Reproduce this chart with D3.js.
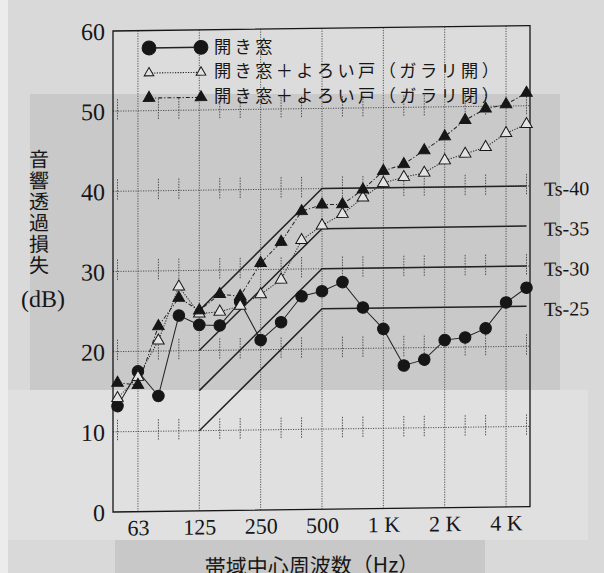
<!DOCTYPE html>
<html>
<head>
<meta charset="utf-8">
<script src="https://cdn.jsdelivr.net/npm/d3@7"></script>
<style>
  body { margin: 0; background: #d8d8d8; }
  svg { display: block; }
</style>
</head>
<body>
<svg id="chart"></svg>
<script>
// size of the page
const width = 604;
const height = 573;

// 1/3 octave band centre frequencies (Hz)
const bands = ["50", "63", "80", "100", "125", "160", "200", "250", "315", "400", "500",
	"630", "800", "1000", "1250", "1600", "2000", "2500", "3150", "4000", "5000"];

// labelled bands on the x axis
const majorBands = ["63", "125", "250", "500", "1000", "2000", "4000"];
const majorLabels = ["63", "125", "250", "500", "1 K", "2 K", "4 K"];

// y axis ticks (dB)
const yTicks = [0, 10, 20, 30, 40, 50, 60];
const gridValues = [10, 20, 30, 40, 50];

// sound transmission loss (dB)
const openWindow = [13.2, 17.5, 14.4, 24.4, 23.2, 23.1, 26.0, 21.2, 23.4, 26.6, 27.2,
	28.3, 25.1, 22.4, 17.8, 18.5, 20.9, 21.2, 22.3, 25.5, 27.3];
const shutterOpen = [14.2, 16.8, 21.3, 28.0, 24.6, 24.8, 25.5, 26.9, 28.7, 33.6, 35.4,
	36.8, 38.8, 40.6, 41.3, 41.8, 43.3, 44.1, 44.9, 46.6, 47.7];
const shutterClosed = [16.1, 15.8, 23.1, 26.6, 25.0, 27.0, 26.7, 30.8, 33.4, 37.2, 38.0,
	38.0, 39.8, 42.1, 42.9, 44.6, 46.3, 48.3, 49.7, 50.2, 51.6];

const legendLabels = ["開き窓", "開き窓＋よろい戸（ガラリ開）", "開き窓＋よろい戸（ガラリ閉）"];

// Ts rating curves: value at 125 Hz is Ts-15, flat from 500 Hz
const tsRatings = [40, 35, 30, 25];
const tsBands = ["125", "500", "5000"];
const tsOffsets = [-15, 0, 0];

const ink = "#161616";
const serif = "'Liberation Serif', 'DejaVu Serif', serif";
const jp = "'Noto Sans CJK JP', 'Noto Sans CJK SC', sans-serif";

// the scan is slightly tilted, right side higher
const tilt = 0.0131;

const svg = d3.select("#chart")
	.attr("width", width)
	.attr("height", height)
	.style("background", "#d8d8d8");

// scanned paper tones
const bg = svg.append("g");
bg.append("rect").attr("x", 0).attr("y", 0).attr("width", width).attr("height", height).attr("fill", "#d9d9d9");
bg.append("rect").attr("x", 0).attr("y", 0).attr("width", 8).attr("height", height).attr("fill", "#ececec");
bg.append("rect").attr("x", 113).attr("y", 30).attr("width", 417).attr("height", 66).attr("fill", "#dcdcdc");
bg.append("rect").attr("x", 30).attr("y", 94).attr("width", 530).attr("height", 296).attr("fill", "#c9c9c9");
bg.append("rect").attr("x", 8).attr("y", 390).attr("width", 580).attr("height", 150).attr("fill", "#e0e0e0");
bg.append("rect").attr("x", 115).attr("y", 540).attr("width", 370).attr("height", 33).attr("fill", "#c8c8c8");

const g = svg.append("g")
	.attr("transform", `matrix(1,${-tilt},0,1,0,${113 * tilt})`);

// scales
const x = d3.scalePoint().domain(bands).range([117.5, 526.5]);
const y = d3.scaleLinear().domain([0, 60]).range([512, 31]);

const left = 113, right = 530;

// horizontal grid
g.append("g")
	.selectAll("line")
	.data(gridValues)
	.join("line")
	.attr("x1", left)
	.attr("x2", right)
	.attr("y1", (d) => y(d))
	.attr("y2", (d) => y(d))
	.attr("stroke", "#444")
	.attr("stroke-width", 0.9)
	.attr("stroke-dasharray", "1.2,1.3");

// vertical grid at octave bands
g.append("g")
	.selectAll("line")
	.data(majorBands)
	.join("line")
	.attr("x1", (d) => x(d))
	.attr("x2", (d) => x(d))
	.attr("y1", y(60))
	.attr("y2", y(0))
	.attr("stroke", "#444")
	.attr("stroke-width", 0.9)
	.attr("stroke-dasharray", "1.2,1.3");

// short tick marks of the other bands across each grid line
const minorTicks = [];
gridValues.forEach((v) => {
	bands.filter((b) => !majorBands.includes(b)).forEach((b) => minorTicks.push([b, v]));
});
g.append("g")
	.selectAll("line")
	.data(minorTicks)
	.join("line")
	.attr("x1", (d) => x(d[0]))
	.attr("x2", (d) => x(d[0]))
	.attr("y1", (d) => y(d[1]) - 12)
	.attr("y2", (d) => y(d[1]) + 9)
	.attr("stroke", "#444")
	.attr("stroke-width", 0.9)
	.attr("stroke-dasharray", "1.5,1.2");

// frame
g.append("rect")
	.attr("x", left)
	.attr("y", y(60))
	.attr("width", right - left)
	.attr("height", y(0) - y(60))
	.attr("fill", "none")
	.attr("stroke", ink)
	.attr("stroke-width", 1.3);

// Ts curves
const tsLine = d3.line().x((d) => x(d[0])).y((d) => y(d[1]));
tsRatings.forEach((ts) => {
	const pts = tsBands.map((b, i) => [b, ts + tsOffsets[i]]);
	g.append("path")
		.attr("d", tsLine(pts))
		.attr("fill", "none")
		.attr("stroke", "#222")
		.attr("stroke-width", 1.5);
	g.append("text")
		.attr("x", 544)
		.attr("y", y(ts) + 10)
		.attr("font-family", serif)
		.attr("font-size", 20)
		.attr("fill", ink)
		.text(`Ts-${ts}`);
});

// y axis labels
const yAxis = g.append("g")
	.attr("transform", `translate(${left}, 0)`)
	.call(d3.axisLeft(y).tickValues(yTicks).tickSize(0).tickPadding(8));
yAxis.select(".domain").remove();
yAxis.selectAll("text")
	.attr("font-family", serif)
	.attr("font-size", 24)
	.attr("fill", ink)
	.attr("dy", "0.34em");

// x axis labels
const xAxis = g.append("g")
	.attr("transform", `translate(0, ${y(0)})`)
	.call(d3.axisBottom(x).tickValues(majorBands)
		.tickFormat((d, i) => majorLabels[i]).tickSize(0).tickPadding(6));
xAxis.select(".domain").remove();
xAxis.selectAll("text")
	.attr("font-family", serif)
	.attr("font-size", 22)
	.attr("fill", ink)
	.attr("dy", "0.8em");

// series
const seriesLine = d3.line().x((d) => x(d[0])).y((d) => y(d[1]));
const series = [
	{ values: openWindow, shape: d3.symbolCircle, size: 105, fill: ink, dash: null },
	{ values: shutterOpen, shape: d3.symbolTriangle, size: 58, fill: "#e2e2e2", dash: "1.2,1.4" },
	{ values: shutterClosed, shape: d3.symbolTriangle, size: 58, fill: ink, dash: "4,2,1.2,2" },
];

series.forEach((s) => {
	const pts = bands.map((b, i) => [b, s.values[i]]);
	g.append("path")
		.attr("d", seriesLine(pts))
		.attr("fill", "none")
		.attr("stroke", "#222")
		.attr("stroke-width", 1)
		.attr("stroke-dasharray", s.dash);
});

series.forEach((s) => {
	g.append("g")
		.selectAll("path")
		.data(bands.map((b, i) => [b, s.values[i]]))
		.join("path")
		.attr("transform", (d) => `translate(${x(d[0])}, ${y(d[1])})`)
		.attr("d", d3.symbol(s.shape, s.size))
		.attr("fill", s.fill)
		.attr("stroke", ink)
		.attr("stroke-width", 1);
});

// legend (texts kept level, moved up by the tilt at their middle)
const legendSizes = [150, 40, 58];
const legend = g.append("g");
const legendText = svg.append("g");
series.forEach((s, i) => {
	const ly = 48.5 + i * 25;
	legend.append("line")
		.attr("x1", 149)
		.attr("x2", 201)
		.attr("y1", ly)
		.attr("y2", ly)
		.attr("stroke", "#222")
		.attr("stroke-width", i === 0 ? 1.5 : 1.1)
		.attr("stroke-dasharray", s.dash);
	[149, 201].forEach((lx) => {
		legend.append("path")
			.attr("transform", `translate(${lx}, ${ly})`)
			.attr("d", d3.symbol(s.shape, legendSizes[i]))
			.attr("fill", s.fill)
			.attr("stroke", ink)
			.attr("stroke-width", 1);
	});
	const mid = i === 0 ? 245 : 358;
	legendText.append("text")
		.attr("x", 214)
		.attr("y", ly + 6.5 - (mid - 113) * tilt)
		.attr("font-family", jp)
		.attr("font-size", 17.2)
		.attr("letter-spacing", 3.4)
		.attr("fill", ink)
		.text(legendLabels[i]);
});

// y axis title, written top to bottom
g.append("text")
	.attr("x", 39)
	.attr("y", 148)
	.attr("font-family", jp)
	.attr("font-size", 20)
	.attr("letter-spacing", 1.2)
	.style("writing-mode", "vertical-rl")
	.attr("fill", ink)
	.text("音響透過損失");

g.append("text")
	.attr("x", 43)
	.attr("y", 306)
	.attr("text-anchor", "middle")
	.attr("font-family", serif)
	.attr("font-size", 24)
	.attr("fill", ink)
	.text("(dB)");

// x axis title (cut by the bottom edge in the scan)
g.append("text")
	.attr("x", 312)
	.attr("y", 576)
	.attr("text-anchor", "middle")
	.attr("font-family", jp)
	.attr("font-size", 21)
	.attr("fill", ink)
	.text("帯域中心周波数（Hz）");
</script>
</body>
</html>
